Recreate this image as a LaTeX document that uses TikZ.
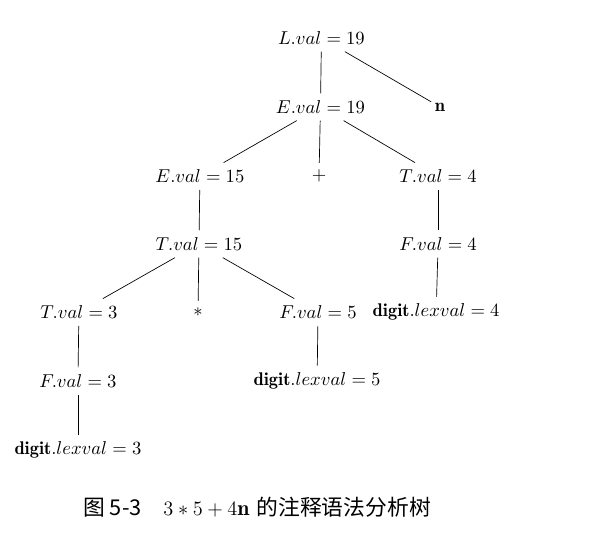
\documentclass[tikz,border=0pt]{standalone}
\usepackage{amsmath,amssymb}
\usepackage{fontspec}
\usepackage{tikz}
\newfontfamily\cjk{Noto Sans CJK SC}

\begin{document}
\begin{tikzpicture}
			\useasboundingbox (0,0) rectangle (12.25,-11.26);
			\begin{scope}[every node/.style={inner xsep=2pt,inner ysep=4pt,font=\fontsize{10.8}{13}\selectfont}]
				\node (L) at (6.64,-0.785) {$L.val = 19$};
				\node (E) at (6.62,-2.21) {$E.val = 19$};
				\node (n) at (9.09,-2.21) {$\mathbf{n}$};
				\node (E15) at (4.13,-3.64) {$E.val = 15$};
				\node (plus) at (6.59,-3.64) {$+$};
				\node (T4) at (9.05,-3.64) {$T.val = 4$};
				\node (T15) at (4.11,-5.04) {$T.val = 15$};
				\node (F4) at (9.05,-5.04) {$F.val = 4$};
				\node (T3) at (1.63,-6.45) {$T.val = 3$};
				\node (star) at (4.09,-6.45) {$*$};
				\node (F5) at (6.57,-6.45) {$F.val = 5$};
				\node (d4) at (9.01,-6.45) {$\mathbf{digit}.lexval = 4$};
				\node (F3) at (1.61,-7.87) {$F.val = 3$};
				\node (d5) at (6.55,-7.87) {$\mathbf{digit}.lexval = 5$};
				\node (d3) at (1.61,-9.30) {$\mathbf{digit}.lexval = 3$};
			\end{scope}
			\begin{scope}[every edge/.style={draw=black,thin}]
				\path (L) edge (E);
				\path (L) edge (n);
				\path (E) edge (E15);
				\path (E) edge (plus);
				\path (E) edge (T4);
				\path (E15) edge (T15);
				\path (T4) edge (F4);
				\path (T15) edge (T3);
				\path (T15) edge (star);
				\path (T15) edge (F5);
				\path (F4) edge (d4);
				\path (T3) edge (F3);
				\path (F5) edge (d5);
				\path (F3) edge (d3);
			\end{scope}
			\node (cap) at (5.31,-10.48) {\fontsize{12.8}{15}\selectfont{\cjk 图 5-3}\quad $3*5+4\mathbf{n}$ {\cjk 的注释语法分析树}};
		\end{tikzpicture}
\end{document}
